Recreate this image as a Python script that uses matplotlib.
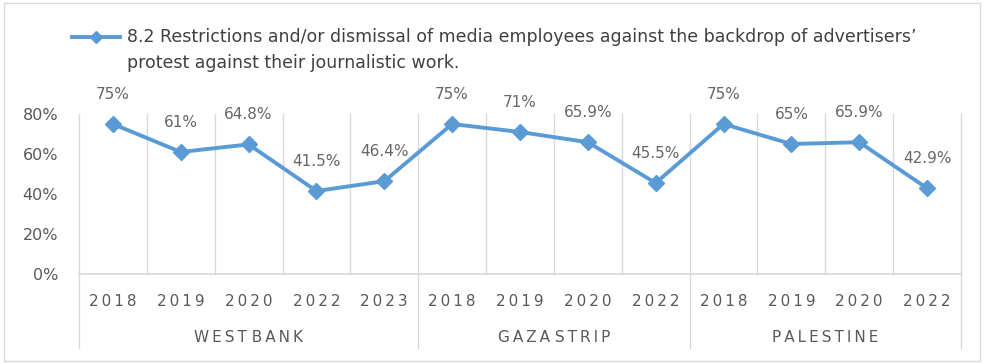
import matplotlib.pyplot as plt
import matplotlib.transforms as mtransforms
from matplotlib.lines import Line2D
from matplotlib.patches import Rectangle

# ==================================
# DATA
# ==================================
GROUPS = ["WEST BANK", "GAZA STRIP", "PALESTINE"]
YEARS = [
    ["2018", "2019", "2020", "2022", "2023"],
    ["2018", "2019", "2020", "2022"],
    ["2018", "2019", "2020", "2022"],
]
VALUES = [
    [75, 61, 64.8, 41.5, 46.4],
    [75, 71, 65.9, 45.5],
    [75, 65, 65.9, 42.9],
]
LABELS = [
    ["75%", "61%", "64.8%", "41.5%", "46.4%"],
    ["75%", "71%", "65.9%", "45.5%"],
    ["75%", "65%", "65.9%", "42.9%"],
]
YTICKS = [0, 20, 40, 60, 80]
SERIES = ("8.2 Restrictions and/or dismissal of media employees against the backdrop of advertisers\u2019\n"
          "protest against their journalistic work.")

BLUE = "#5B9BD5"
GRID = "#D9D9D9"
TXT = "#595959"
THIN = "\u2009"

plt.rcParams["font.family"] = ["DejaVu Sans"]


def spaced(s):
    # wide letter spacing like the original axis labels
    return " ".join(THIN.join(w) for w in s.split(" "))


# flatten
vals = [v for g in VALUES for v in g]
labs = [l for g in LABELS for l in g]
yrs = [y for g in YEARS for y in g]
xs = list(range(len(vals)))

fig = plt.figure(figsize=(9.85, 3.64), dpi=100)
fig.patches.append(Rectangle((4/985, 3/364), 976/985, 358/364, transform=fig.transFigure,
                             fill=False, edgecolor=GRID, linewidth=1))

ax = fig.add_axes([79/985, 90/364, 882/985, 160/364])
ax.set_xlim(-0.5, len(vals) - 0.5)
ax.set_ylim(0, 80)

for s in ax.spines.values():
    s.set_visible(False)

# vertical category separators
for b in range(len(vals) + 1):
    ax.plot([b - 0.5, b - 0.5], [0, 80], color=GRID, lw=1, zorder=1, clip_on=False)
ax.axhline(0, color=GRID, lw=1.2, zorder=1, clip_on=False)

trans = mtransforms.blended_transform_factory(ax.transData, ax.transAxes)

# group boundaries extend below axis
bounds = [0]
for g in YEARS:
    bounds.append(bounds[-1] + len(g))
for b in bounds:
    ax.add_line(Line2D([b - 0.5, b - 0.5], [-0.4625, 0], transform=trans,
                       color=GRID, lw=1, clip_on=False))

ax.plot(xs, vals, color=BLUE, lw=2.8, marker="D", markersize=8, zorder=3)

for x, v, l in zip(xs, vals, labs):
    ax.annotate(l, (x, v), xytext=(0, 21.5), textcoords="offset points",
                ha="center", va="center", fontsize=11, color="#666666")

ax.set_xticks([])
ax.set_yticks(YTICKS)
ax.set_yticklabels([f"{t}%" for t in YTICKS], fontsize=11.5, color=TXT)
ax.tick_params(axis="y", length=0, pad=15)

for x, y in zip(xs, yrs):
    ax.text(x, -0.175, spaced(y), transform=trans, ha="center", va="center",
            fontsize=11, color=TXT, clip_on=False)

for i, g in enumerate(GROUPS):
    mid = (bounds[i] + bounds[i + 1] - 1) / 2
    ax.text(mid, -0.40, spaced(g), transform=trans, ha="center", va="center",
            fontsize=11, color=TXT, clip_on=False)

# legend
fig.add_artist(Line2D([72/985, 120/985], [1 - 37/364, 1 - 37/364], color=BLUE, lw=2.8,
                      transform=fig.transFigure))
fig.add_artist(Line2D([96/985], [1 - 37/364], color=BLUE, marker="D", markersize=6,
                      transform=fig.transFigure))
fig.text(127/985, 1 - 50/364, SERIES, ha="left", va="center", fontsize=12.5,
         color="#404040", linespacing=1.5)

fig.savefig("out.png", dpi=100)
